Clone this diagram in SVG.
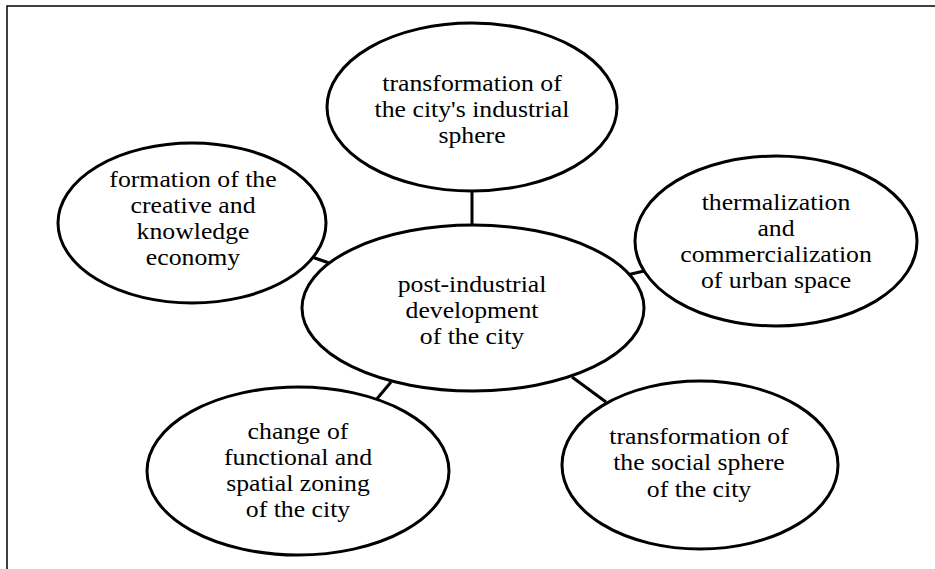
<svg xmlns="http://www.w3.org/2000/svg" width="935" height="569" viewBox="0 0 935 569">
<style>
.node ellipse{fill:#fff;stroke:#000;stroke-width:3}
.node text{font-family:"Liberation Serif","Times New Roman",serif;font-size:23px;fill:#000;text-anchor:middle}
.conn line{stroke:#000;stroke-width:3}
.frame{stroke:#000;stroke-width:1.5;fill:none}
</style>
<rect width="935" height="569" fill="#fff"/>
<path class="frame" d="M7,569 V6 H935"/>
<g class="conn">
<line x1="472" y1="190" x2="472" y2="226"/>
<line x1="312" y1="257" x2="332" y2="264"/>
<line x1="627" y1="275" x2="644" y2="271"/>
<line x1="391" y1="382" x2="376" y2="400"/>
<line x1="572" y1="377" x2="606" y2="402"/>
</g>
<g id="center" class="node">
<ellipse cx="473" cy="308" rx="171" ry="83"/>
<g transform="translate(472,0) scale(1.12,1)">
<text x="0" y="292">post-industrial</text>
<text x="0" y="318">development</text>
<text x="0" y="344">of the city</text>
</g>
</g>
<g id="top" class="node">
<ellipse cx="472" cy="107" rx="145" ry="84"/>
<g transform="translate(472,0) scale(1.12,1)">
<text x="0" y="91">transformation of</text>
<text x="0" y="117">the city's industrial</text>
<text x="0" y="143">sphere</text>
</g>
</g>
<g id="left" class="node">
<ellipse cx="192" cy="223" rx="134" ry="80"/>
<g transform="translate(193,0) scale(1.12,1)">
<text x="0" y="187">formation of the</text>
<text x="0" y="213">creative and</text>
<text x="0" y="239">knowledge</text>
<text x="0" y="265">economy</text>
</g>
</g>
<g id="right" class="node">
<ellipse cx="776" cy="241" rx="141" ry="85"/>
<g transform="translate(776,0) scale(1.12,1)">
<text x="0" y="210">thermalization</text>
<text x="0" y="236">and</text>
<text x="0" y="262">commercialization</text>
<text x="0" y="288">of urban space</text>
</g>
</g>
<g id="bottom-left" class="node">
<ellipse cx="298" cy="471" rx="151" ry="84"/>
<g transform="translate(298,0) scale(1.12,1)">
<text x="0" y="439">change of</text>
<text x="0" y="465">functional and</text>
<text x="0" y="491">spatial zoning</text>
<text x="0" y="517">of the city</text>
</g>
</g>
<g id="bottom-right" class="node">
<ellipse cx="700" cy="465" rx="138" ry="84"/>
<g transform="translate(699,0) scale(1.12,1)">
<text x="0" y="444">transformation of</text>
<text x="0" y="470">the social sphere</text>
<text x="0" y="497">of the city</text>
</g>
</g>
</svg>
